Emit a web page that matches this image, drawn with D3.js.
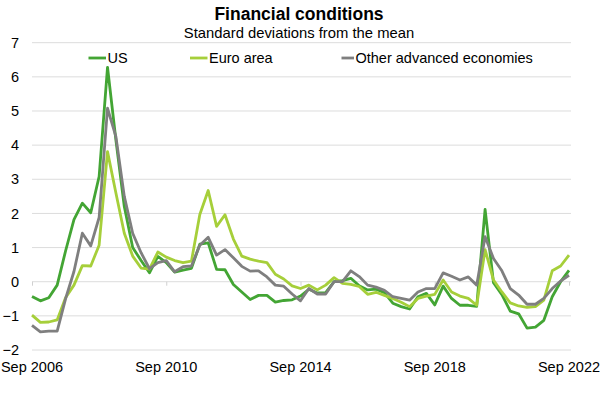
<!DOCTYPE html>
<html>
<head>
<meta charset="utf-8">
<script src="https://cdn.jsdelivr.net/npm/d3@7"></script>
<style>
  html, body { margin: 0; padding: 0; background: #fff; }
  svg { display: block; font-family: "Liberation Sans", Arial, sans-serif; }
</style>
</head>
<body>
<svg id="chart" width="602" height="393"></svg>
<script>
// Quarterly observations, Sep 2006 to Sep 2022
const quarters = [
  "2006-09","2006-12","2007-03","2007-06","2007-09","2007-12","2008-03","2008-06",
  "2008-09","2008-12","2009-03","2009-06","2009-09","2009-12","2010-03","2010-06",
  "2010-09","2010-12","2011-03","2011-06","2011-09","2011-12","2012-03","2012-06",
  "2012-09","2012-12","2013-03","2013-06","2013-09","2013-12","2014-03","2014-06",
  "2014-09","2014-12","2015-03","2015-06","2015-09","2015-12","2016-03","2016-06",
  "2016-09","2016-12","2017-03","2017-06","2017-09","2017-12","2018-03","2018-06",
  "2018-09","2018-12","2019-03","2019-06","2019-09","2019-12","2020-03","2020-06",
  "2020-09","2020-12","2021-03","2021-06","2021-09","2021-12","2022-03","2022-06",
  "2022-09"
];
const tickQuarters = ["2006-09","2010-09","2014-09","2018-09","2022-09"];
const tickLabels = ["Sep 2006","Sep 2010","Sep 2014","Sep 2018","Sep 2022"];
const yTicks = [-2,-1,0,1,2,3,4,5,6,7];

const us = [
  -0.43,-0.56,-0.47,-0.10,0.90,1.82,2.30,2.02,3.08,6.28,4.15,2.20,1.00,0.62,0.26,0.74,
  0.56,0.28,0.34,0.39,1.10,1.14,0.36,0.35,-0.08,-0.30,-0.52,-0.40,-0.40,-0.60,-0.55,-0.53,
  -0.42,-0.22,-0.33,-0.32,0.00,0.03,0.10,-0.12,-0.24,-0.22,-0.32,-0.63,-0.73,-0.80,-0.44,-0.34,
  -0.68,-0.13,-0.49,-0.69,-0.69,-0.72,2.12,-0.03,-0.38,-0.86,-0.94,-1.36,-1.33,-1.13,-0.44,0.00,
  0.33
];
const euro = [
  -0.98,-1.19,-1.18,-1.12,-0.47,-0.10,0.47,0.46,1.07,3.81,2.60,1.42,0.75,0.40,0.37,0.87,
  0.72,0.62,0.56,0.60,1.97,2.67,1.62,1.96,1.25,0.75,0.66,0.60,0.56,0.22,0.08,-0.12,
  -0.20,-0.10,-0.24,-0.10,0.12,-0.05,-0.08,-0.14,-0.37,-0.31,-0.40,-0.49,-0.60,-0.73,-0.49,-0.42,
  -0.37,0.05,-0.30,-0.42,-0.49,-0.69,0.94,0.05,-0.30,-0.62,-0.71,-0.75,-0.73,-0.54,0.32,0.46,
  0.78
];
const other = [
  -1.28,-1.47,-1.45,-1.45,-0.50,0.30,1.42,1.05,1.88,5.08,4.25,2.50,1.42,0.85,0.38,0.56,
  0.62,0.29,0.44,0.46,1.07,1.30,0.78,0.94,0.70,0.45,0.31,0.32,0.14,-0.10,-0.13,-0.36,
  -0.56,-0.20,-0.36,-0.36,0.00,0.00,0.32,0.15,-0.10,-0.16,-0.25,-0.44,-0.49,-0.54,-0.30,-0.20,
  -0.20,0.26,0.16,0.05,0.14,-0.10,1.32,0.68,0.32,-0.20,-0.39,-0.66,-0.66,-0.49,-0.20,0.02,
  0.19
];
const seriesNames = ["US","Euro area","Other advanced economies"];
const seriesColors = ["#43a534","#a6cf3a","#7f7f7f"];
const seriesValues = [us, euro, other];

const svg = d3.select("#chart");
const plot = {left: 32, right: 569, top: 42.7, bottom: 350};

const x = d3.scalePoint().domain(quarters).range([plot.left, plot.right]);
const y = d3.scaleLinear().domain([-2, 7]).range([plot.bottom, plot.top]);

// Title
svg.append("text").attr("x", 299).attr("y", 20).attr("text-anchor", "middle")
  .attr("font-size", 17.5).attr("font-weight", "bold").attr("fill", "#000")
  .text("Financial conditions");
svg.append("text").attr("x", 299).attr("y", 37.5).attr("text-anchor", "middle")
  .attr("font-size", 14.8).attr("fill", "#000")
  .text("Standard deviations from the mean");

// Gridlines
svg.append("g").selectAll("line").data(yTicks).join("line")
  .attr("x1", plot.left).attr("x2", plot.right + 2)
  .attr("y1", d => y(d)).attr("y2", d => y(d))
  .attr("stroke", "#dcdcdc").attr("stroke-width", 1);

// Y axis labels
const yAxis = d3.axisLeft(y).tickValues(yTicks).tickSize(0).tickPadding(0).tickFormat(d3.format("d"));
const gy = svg.append("g").attr("transform", "translate(19,0)").call(yAxis);
gy.select(".domain").remove();
gy.selectAll("text").attr("font-size", 14.5).attr("fill", "#000")
  .attr("font-family", "Liberation Sans, Arial, sans-serif");

// X axis at zero
const xAxis = d3.axisBottom(x).tickValues(tickQuarters).tickSize(4).tickFormat(() => "");
const gx = svg.append("g").attr("transform", `translate(0,${y(0)})`).call(xAxis);
gx.select(".domain").remove();
gx.selectAll("line").attr("stroke", "#d0d0d0");

// X labels at bottom
svg.append("g").selectAll("text").data(tickQuarters).join("text")
  .attr("x", (d, i) => Math.max(x(d), 30))
  .attr("y", 372)
  .attr("text-anchor", "middle")
  .attr("font-size", 14.5).attr("fill", "#000")
  .text((d, i) => tickLabels[i]);

// Lines
const line = d3.line().x((d, i) => x(quarters[i])).y(d => y(d));
seriesValues.forEach((vals, k) => {
  svg.append("path").datum(vals)
    .attr("d", line)
    .attr("fill", "none")
    .attr("stroke", seriesColors[k])
    .attr("stroke-width", 2.8)
    .attr("stroke-linejoin", "round");
});

// Legend
const legendX = [88.5, 190, 341.5];
const legendLen = [17.5, 17.5, 12.5];
const lg = svg.append("g");
seriesNames.forEach((name, k) => {
  lg.append("line").attr("x1", legendX[k]).attr("x2", legendX[k] + legendLen[k])
    .attr("y1", 58).attr("y2", 58)
    .attr("stroke", seriesColors[k]).attr("stroke-width", 2.8);
  lg.append("text").attr("x", legendX[k] + legendLen[k] + 1.5).attr("y", 63)
    .attr("font-size", 14.5).attr("fill", "#000").text(name);
});
</script>
</body>
</html>
